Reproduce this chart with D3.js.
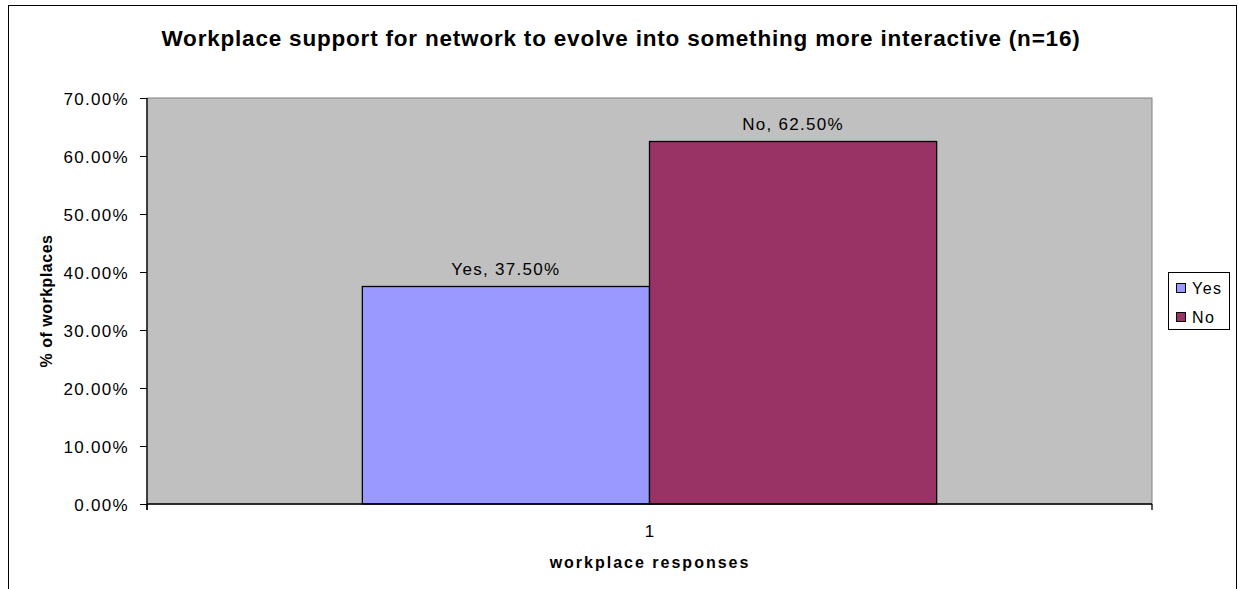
<!DOCTYPE html>
<html>
<head>
<meta charset="utf-8">
<script src="https://cdn.jsdelivr.net/npm/d3@7"></script>
<style>
  body { margin: 0; background: #fff; }
  svg { display: block; font-family: "Liberation Sans", Arial, sans-serif; }
</style>
</head>
<body>
<svg id="chart" width="1238" height="589"></svg>
<script>
// Survey result: share of workplaces answering each option
const categories = ["1"];
const seriesNames = ["Yes", "No"];
const seriesValues = [37.5, 62.5];
const seriesColors = ["#9999FF", "#993366"];
const yTicks = [0, 10, 20, 30, 40, 50, 60, 70];

const svg = d3.select("#chart");
const W = 1238, H = 589;
const plot = { left: 147, right: 1152, top: 98, bottom: 504 };

// outer chart frame
svg.append("rect")
  .attr("x", 8.5).attr("y", 5.5)
  .attr("width", W - 10).attr("height", H + 10)
  .attr("fill", "#fff").attr("stroke", "#000").attr("stroke-width", 1);

// title
svg.append("text")
  .attr("x", 621).attr("y", 46)
  .attr("text-anchor", "middle")
  .attr("font-size", 22.5).attr("font-weight", "bold")
  .attr("letter-spacing", 0.8)
  .text("Workplace support for network to evolve into something more interactive (n=16)");

// category band, with a 150% gap between clusters
const x0 = d3.scaleBand().domain(categories).range([plot.left, plot.right]);
const x1 = d3.scaleBand().domain(seriesNames)
  .range([0, x0.bandwidth()]).paddingInner(0).paddingOuter(0.75);
const y = d3.scaleLinear().domain([0, 70]).range([plot.bottom, plot.top]);

// plot background
svg.append("rect")
  .attr("x", plot.left).attr("y", plot.top)
  .attr("width", plot.right - plot.left).attr("height", plot.bottom - plot.top)
  .attr("fill", "#C0C0C0").attr("stroke", "#808080").attr("stroke-width", 1);

// bars with data labels
const g = svg.append("g");
seriesNames.forEach((name, i) => {
  const cx = x0(categories[0]) + x1(name);
  g.append("rect")
    .attr("x", cx).attr("y", y(seriesValues[i]))
    .attr("width", x1.bandwidth())
    .attr("height", y(0) - y(seriesValues[i]))
    .attr("fill", seriesColors[i]).attr("stroke", "#000").attr("stroke-width", 1.3);
  g.append("text")
    .attr("x", cx + x1.bandwidth() / 2)
    .attr("y", y(seriesValues[i]) - 12)
    .attr("text-anchor", "middle")
    .attr("font-size", 17).attr("letter-spacing", 1.3)
    .text(`${name}, ${seriesValues[i].toFixed(2)}%`);
});

// y axis
const yAxis = d3.axisLeft(y).tickValues(yTicks)
  .tickFormat(d => d.toFixed(2) + "%").tickSize(7).tickPadding(11);
const ya = svg.append("g").attr("transform", `translate(${plot.left},0)`).call(yAxis);
ya.select(".domain").attr("stroke", "#000").attr("stroke-width", 1.3)
  .attr("d", `M0,${plot.top}V${plot.bottom + 6}`);
ya.selectAll(".tick line").attr("stroke", "#000");
ya.selectAll(".tick text").attr("font-size", 17).attr("fill", "#000")
  .attr("letter-spacing", 1.3).attr("dy", "0.36em")
  .attr("font-family", "Liberation Sans, Arial, sans-serif");

// x axis
const xAxis = d3.axisBottom(x0).tickSize(0).tickPadding(21);
const xa = svg.append("g").attr("transform", `translate(0,${plot.bottom})`).call(xAxis);
xa.select(".domain").attr("stroke", "#000").attr("stroke-width", 1.5)
  .attr("d", `M${plot.left},0H${plot.right}`);
xa.selectAll(".tick text").attr("font-size", 17).attr("fill", "#000")
  .attr("font-family", "Liberation Sans, Arial, sans-serif");
// category boundary ticks
[plot.left, plot.right].forEach(px => {
  xa.append("line").attr("x1", px).attr("x2", px).attr("y1", 0).attr("y2", 6)
    .attr("stroke", "#000").attr("stroke-width", 1.3);
});

// axis titles
svg.append("text")
  .attr("x", 650).attr("y", 568)
  .attr("text-anchor", "middle")
  .attr("font-size", 16).attr("font-weight", "bold").attr("letter-spacing", 2)
  .text("workplace responses");
svg.append("text")
  .attr("transform", `translate(52,${(plot.top + plot.bottom) / 2}) rotate(-90)`)
  .attr("text-anchor", "middle")
  .attr("font-size", 16).attr("font-weight", "bold").attr("letter-spacing", 0.5)
  .text("% of workplaces");

// legend
const lg = svg.append("g");
lg.append("rect").attr("x", 1168.5).attr("y", 272.5).attr("width", 61).attr("height", 57)
  .attr("fill", "#fff").attr("stroke", "#000");
seriesNames.forEach((name, i) => {
  const ly = 294 + i * 29;
  lg.append("rect").attr("x", 1176.5).attr("y", ly - 10.5).attr("width", 9).attr("height", 9)
    .attr("fill", seriesColors[i]).attr("stroke", "#000");
  lg.append("text").attr("x", 1192).attr("y", ly)
    .attr("font-size", 16).attr("letter-spacing", 1.5).text(name);
});
</script>
</body>
</html>
